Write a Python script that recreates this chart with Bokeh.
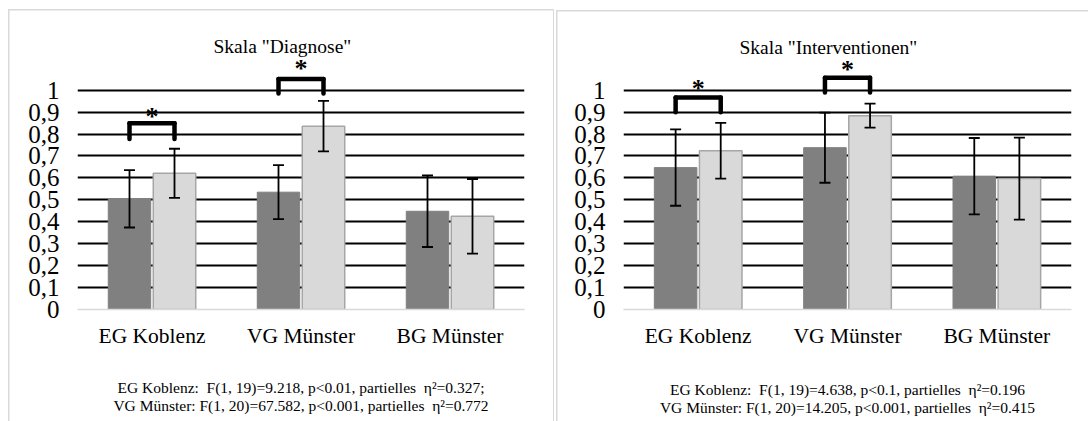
from bokeh.plotting import figure
from bokeh.layouts import row
from bokeh.models import (ColumnDataSource, FactorRange, Range1d, FixedTicker,
                          CustomJSTickFormatter, Whisker, TeeHead)
from bokeh.transform import dodge
from bokeh.core.properties import value
from bokeh.embed import file_html
from bokeh.resources import INLINE

# ---------------- data ----------------
categories = ["EG Koblenz", "VG Münster", "BG Münster"]
y_ticks = [0, 0.1, 0.2, 0.3, 0.4, 0.5, 0.6, 0.7, 0.8, 0.9, 1.0]

diag_title = 'Skala "Diagnose"'
diag_pre = [0.505, 0.535, 0.448]
diag_post = [0.621, 0.836, 0.425]
diag_pre_err = [0.131, 0.123, 0.163]
diag_post_err = [0.112, 0.115, 0.170]
diag_sig_groups = ["EG Koblenz", "VG Münster"]
diag_bracket_top = [0.849, 1.051]
diag_bracket_bottom = [0.777, 0.985]
diag_star_y = [0.89, 1.106]
diag_notes = ["EG Koblenz:\u00a0 F(1, 19)=9.218, p<0.01, partielles\u00a0 \u03b7\u00b2=0.327;",
              "VG Münster: F(1, 20)=67.582, p<0.001, partielles\u00a0 \u03b7\u00b2=0.772"]

int_title = 'Skala "Interventionen"'
int_pre = [0.647, 0.738, 0.608]
int_post = [0.724, 0.884, 0.597]
int_pre_err = [0.174, 0.160, 0.174]
int_post_err = [0.127, 0.055, 0.187]
int_sig_groups = ["EG Koblenz", "VG Münster"]
int_bracket_top = [0.967, 1.057]
int_bracket_bottom = [0.90, 0.99]
int_star_y = [1.018, 1.105]
int_notes = ["EG Koblenz:\u00a0 F(1, 19)=4.638, p<0.1, partielles\u00a0 \u03b7\u00b2=0.196",
             "VG Münster: F(1, 20)=14.205, p<0.001, partielles\u00a0 \u03b7\u00b2=0.415"]

FONT = "Liberation Serif"
DARK = "#808080"
LIGHT = "#d9d9d9"
LIGHT_EDGE = "#a6a6a6"
BORDER = "#d9d9d9"
OFF = 0.151
BAR_W = 0.285
Y_TOP = 1.14


def line_bg(x, y, w, h):
    return f"linear-gradient({BORDER},{BORDER}) {x}px {y}px / {w}px {h}px no-repeat"


def make_panel(title, pre, post, pre_err, post_err, sig_groups, b_top, b_bottom,
               star_y, notes, width, mb_left, mb_right, mb_top, mb_bottom,
               title_offset, title_standoff, note_standoff, borders):
    p = figure(x_range=FactorRange(*categories), y_range=Range1d(0, Y_TOP),
               width=width, height=421, output_backend="svg", toolbar_location=None,
               min_border_left=mb_left, min_border_right=mb_right,
               min_border_top=mb_top, min_border_bottom=mb_bottom,
               styles={"background": ", ".join(line_bg(*b) for b in borders)})
    p.outline_line_color = None
    p.background_fill_color = "white"
    p.border_fill_color = None

    # title
    p.title.text = title
    p.title.align = "left"
    p.title.offset = title_offset
    p.title.vertical_align = "bottom"
    p.title.standoff = title_standoff
    p.title.text_font = FONT
    p.title.text_font_style = "normal"
    p.title.text_font_size = "19.5px"
    p.title.text_color = "black"

    # grid
    p.xgrid.grid_line_color = None
    p.ygrid.ticker = FixedTicker(ticks=y_ticks[1:])
    p.ygrid.grid_line_color = "black"
    p.ygrid.grid_line_width = 1.8

    # y axis
    p.yaxis.ticker = FixedTicker(ticks=y_ticks)
    p.yaxis.formatter = CustomJSTickFormatter(
        code="return String(Math.round(tick*10)/10).replace('.', ',');")
    p.yaxis.axis_line_color = None
    p.yaxis.major_tick_line_color = None
    p.yaxis.minor_tick_line_color = None
    p.yaxis.major_tick_out = 0
    p.yaxis.major_tick_in = 0
    p.yaxis.major_label_standoff = 18
    p.yaxis.major_label_text_font = FONT
    p.yaxis.major_label_text_font_size = "25px"
    p.yaxis.major_label_text_color = "black"

    # x axis (category names) and the footnote beneath it
    p.xaxis.axis_line_color = "#d9d9d9"
    p.xaxis.axis_line_width = 1.5
    p.xaxis.major_tick_line_color = None
    p.xaxis.major_tick_out = 0
    p.xaxis.major_tick_in = 0
    p.xaxis.major_label_standoff = 14
    p.xaxis.major_label_text_font = FONT
    p.xaxis.major_label_text_font_size = "21.5px"
    p.xaxis.major_label_text_color = "black"
    p.xaxis.axis_label = "\n".join(notes)
    p.xaxis.axis_label_text_font = FONT
    p.xaxis.axis_label_text_font_style = "normal"
    p.xaxis.axis_label_text_font_size = "15.5px"
    p.xaxis.axis_label_text_line_height = 1.1
    p.xaxis.axis_label_text_color = "black"
    p.xaxis.axis_label_standoff = note_standoff

    src = ColumnDataSource(dict(
        cat=categories, pre=pre, post=post,
        pre_lo=[m - e for m, e in zip(pre, pre_err)],
        pre_hi=[m + e for m, e in zip(pre, pre_err)],
        post_lo=[m - e for m, e in zip(post, post_err)],
        post_hi=[m + e for m, e in zip(post, post_err)],
    ))

    p.vbar(x=dodge("cat", -OFF, range=p.x_range), top="pre", bottom=0, width=BAR_W,
           source=src, fill_color=DARK, line_color=DARK, line_width=1)
    p.vbar(x=dodge("cat", OFF, range=p.x_range), top="post", bottom=0, width=BAR_W,
           source=src, fill_color=LIGHT, line_color=LIGHT_EDGE, line_width=1.5)

    for off, lo, hi in [(-OFF, "pre_lo", "pre_hi"), (OFF, "post_lo", "post_hi")]:
        p.add_layout(Whisker(
            source=src, base=dodge("cat", off, range=p.x_range), upper=hi, lower=lo,
            line_color="black", line_width=1.8, level="annotation",
            upper_head=TeeHead(size=11, line_color="black", line_width=1.8),
            lower_head=TeeHead(size=11, line_color="black", line_width=1.8)))

    sig = ColumnDataSource(dict(cat=sig_groups, top=b_top, bottom=b_bottom, star=star_y))
    left = dodge("cat", -OFF, range=p.x_range)
    right = dodge("cat", OFF, range=p.x_range)
    kw = dict(source=sig, line_color="black", line_width=4.5, line_cap="round")
    p.segment(x0=left, y0="bottom", x1=left, y1="top", **kw)
    p.segment(x0=left, y0="top", x1=right, y1="top", **kw)
    p.segment(x0=right, y0="top", x1=right, y1="bottom", **kw)
    p.text(x="cat", y="star", text=value("*"), source=sig,
           text_font=value(FONT), text_font_style="bold", text_font_size=value("26px"),
           text_align="center", text_baseline="middle", y_offset=2, text_color="black")
    return p


p1 = make_panel(diag_title, diag_pre, diag_post, diag_pre_err, diag_post_err,
                diag_sig_groups, diag_bracket_top, diag_bracket_bottom, diag_star_y,
                diag_notes, width=554, mb_left=77, mb_right=30, mb_top=57, mb_bottom=112,
                title_offset=136, title_standoff=6, note_standoff=28,
                borders=[(8, 9, 1.5, 412), (8, 9, 546, 1.5), (552.5, 9, 1.5, 412)])
p2 = make_panel(int_title, int_pre, int_post, int_pre_err, int_post_err,
                int_sig_groups, int_bracket_top, int_bracket_bottom, int_star_y,
                int_notes, width=534, mb_left=69, mb_right=17, mb_top=59, mb_bottom=110,
                title_offset=116, title_standoff=4, note_standoff=30,
                borders=[(2, 10, 1.5, 411), (2, 10, 532, 1.5)])

layout = row(p1, p2)
open("out.html", "w").write(file_html(layout, INLINE))
